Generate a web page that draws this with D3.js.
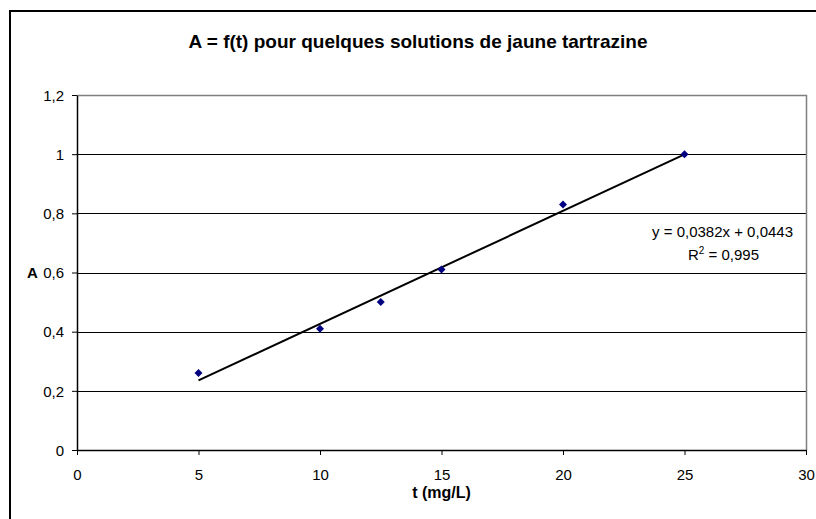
<!DOCTYPE html>
<html>
<head>
<meta charset="utf-8">
<script src="https://cdn.jsdelivr.net/npm/d3@7"></script>
<style>
  body { margin: 0; background: #fff; }
  svg { display: block; font-family: "Liberation Sans", Arial, sans-serif; }
</style>
</head>
<body>
<svg width="816" height="519"></svg>
<script>
// data
var concentrations = [5, 10, 12.5, 15, 20, 25];
var absorbances = [0.26, 0.41, 0.50, 0.61, 0.83, 1.0];
var xTicks = [0, 5, 10, 15, 20, 25, 30];
var yTicks = [0, 0.2, 0.4, 0.6, 0.8, 1, 1.2];
var slope = 0.0382, intercept = 0.0443;
var trendRange = [5, 25];

var svg = d3.select("svg"),
    margin = {top: 95, right: 10, bottom: 69, left: 77},
    width = 816 - margin.left - margin.right,
    height = 519 - margin.top - margin.bottom;

// outer chart frame
svg.append("rect")
  .attr("x", 10).attr("y", 11)
  .attr("width", 820).attr("height", 520)
  .attr("fill", "#fff").attr("stroke", "#000").attr("stroke-width", 2);

svg.append("text")
  .attr("x", 418).attr("y", 48)
  .attr("text-anchor", "middle")
  .style("font-weight", "bold").style("font-size", "19px")
  .text("A = f(t) pour quelques solutions de jaune tartrazine");

var g = svg.append("g").attr("transform", "translate(" + margin.left + "," + margin.top + ")");

var x = d3.scaleLinear().domain([0, 30]).range([0, width]),
    y = d3.scaleLinear().domain([0, 1.2]).range([height, 0]);

var fmt = function(d) { return String(+d.toFixed(1)).replace(".", ","); };

//gridlines
g.selectAll(".grid")
  .data(yTicks.filter(function(d) { return d > 0 && d < 1.2; }))
  .enter().append("line")
  .attr("x1", 0).attr("x2", width)
  .attr("y1", function(d) { return Math.round(y(d)) + 0.5; })
  .attr("y2", function(d) { return Math.round(y(d)) + 0.5; })
  .attr("stroke", "#000");

// plot border top/right (grey)
g.append("path")
  .attr("d", "M0.5,0.5H" + (width + 0.5) + "V" + height)
  .attr("fill", "none").attr("stroke", "#808080").attr("stroke-width", 1.5);

//axes
var xAxis = g.append("g")
  .attr("transform", "translate(0," + height + ")")
  .call(d3.axisBottom(x).tickValues(xTicks).tickSize(5).tickSizeOuter(0).tickPadding(10));
var yAxis = g.append("g")
  .call(d3.axisLeft(y).tickValues(yTicks).tickFormat(fmt).tickSize(5).tickSizeOuter(0).tickPadding(8));

[xAxis, yAxis].forEach(function(a) {
  a.attr("font-family", null).attr("font-size", null).style("font-size", "15px");
  a.select(".domain").attr("stroke", "#000").attr("stroke-width", 1.5);
  a.selectAll(".tick line").attr("stroke", "#000");
  a.selectAll(".tick text").attr("fill", "#000");
});
xAxis.selectAll(".tick text").attr("dy", "1em");
yAxis.selectAll(".tick text").attr("dy", "0.35em");

// axis titles
svg.append("text")
  .attr("x", margin.left + x(15)).attr("y", 498)
  .attr("text-anchor", "middle")
  .style("font-weight", "bold").style("font-size", "16px")
  .text("t (mg/L)");
svg.append("text")
  .attr("x", 27).attr("y", margin.top + y(0.6) + 5.5)
  .style("font-weight", "bold").style("font-size", "15px")
  .text("A");

//trendline
g.append("line")
  .attr("x1", x(trendRange[0])).attr("y1", y(slope * trendRange[0] + intercept))
  .attr("x2", x(trendRange[1])).attr("y2", y(slope * trendRange[1] + intercept))
  .attr("stroke", "#000").attr("stroke-width", 2);

//points
g.selectAll(".pt")
  .data(concentrations)
  .enter().append("path")
  .attr("d", "M0,-4L4,0L0,4L-4,0Z")
  .attr("transform", function(d, i) { return "translate(" + x(d) + "," + y(absorbances[i]) + ")"; })
  .attr("fill", "#000080");

// equation label
svg.append("text")
  .attr("x", 793).attr("y", 237)
  .attr("text-anchor", "end")
  .style("font-size", "15px")
  .text("y = 0,0382x + 0,0443");
var r2 = svg.append("text").attr("x", 688).attr("y", 260).style("font-size", "15px");
r2.append("tspan").text("R");
r2.append("tspan").attr("dy", -6).style("font-size", "10px").text("2");
r2.append("tspan").attr("dy", 6).text(" = 0,995");
</script>
</body>
</html>
